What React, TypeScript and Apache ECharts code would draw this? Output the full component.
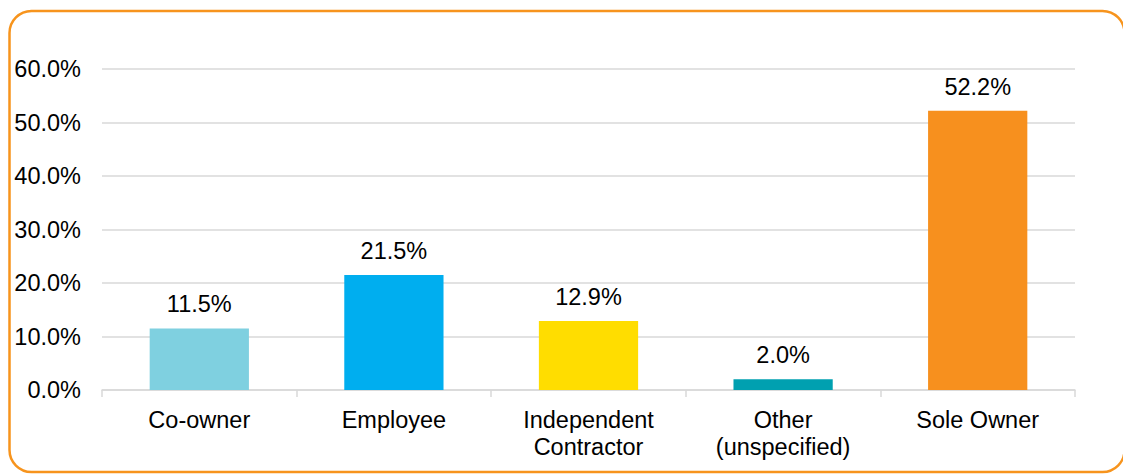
import React, { useEffect, useRef } from "react";
import * as echarts from "echarts";

const categories = ["Co-owner", "Employee", "Independent\nContractor", "Other\n(unspecified)", "Sole Owner"];
const values = [11.5, 21.5, 12.9, 2.0, 52.2];
const barColors = ["#7FD0E0", "#00AEEF", "#FFDD00", "#00A0B0", "#F7901E"];
const yTicks = [0, 10, 20, 30, 40, 50, 60];

export default function App() {
  const ref = useRef<HTMLDivElement>(null);
  useEffect(() => {
    if (!ref.current) return;
    const chart = echarts.init(ref.current, null, { renderer: "svg" });
    const font = "Liberation Sans, Arial, sans-serif";
    chart.setOption({
      animation: false,
      graphic: [
        {
          type: "rect",
          shape: { x: 9.5, y: 11, width: 1115, height: 461, r: 22 },
          style: { fill: "none", stroke: "#F7941D", lineWidth: 2.5 },
          silent: true,
        },
      ],
      grid: { left: 102, right: 48, top: 69, bottom: 86, containLabel: false },
      xAxis: {
        type: "category",
        data: categories,
        axisLine: { show: true, lineStyle: { color: "#D9D9D9", width: 1.5 } },
        axisTick: { show: true, length: 7, lineStyle: { color: "#D9D9D9", width: 1.5 } },
        axisLabel: { color: "#000", fontSize: 23.5, fontFamily: font, margin: 16, lineHeight: 27 },
      },
      yAxis: {
        type: "value",
        min: yTicks[0],
        max: yTicks[yTicks.length - 1],
        interval: 10,
        axisLine: { show: false },
        axisTick: { show: false },
        splitLine: { lineStyle: { color: "#D9D9D9", width: 1.5 } },
        axisLabel: {
          color: "#000",
          fontSize: 23.5,
          fontFamily: font,
          margin: 21,
          formatter: (v: number) => v.toFixed(1) + "%",
        },
      },
      series: [
        {
          type: "bar",
          barWidth: "51%",
          data: values.map((v, i) => ({ value: v, itemStyle: { color: barColors[i] } })),
          label: {
            show: true,
            position: "top",
            distance: 12,
            color: "#000",
            fontSize: 23.5,
            fontFamily: font,
            formatter: (p: any) => p.value.toFixed(1) + "%",
          },
        },
      ],
    });
    return () => chart.dispose();
  }, []);
  return (
    <div
      ref={ref}
      style={{ position: "absolute", left: 0, top: 0, width: 1123, height: 476, background: "#fff" }}
    />
  );
}
